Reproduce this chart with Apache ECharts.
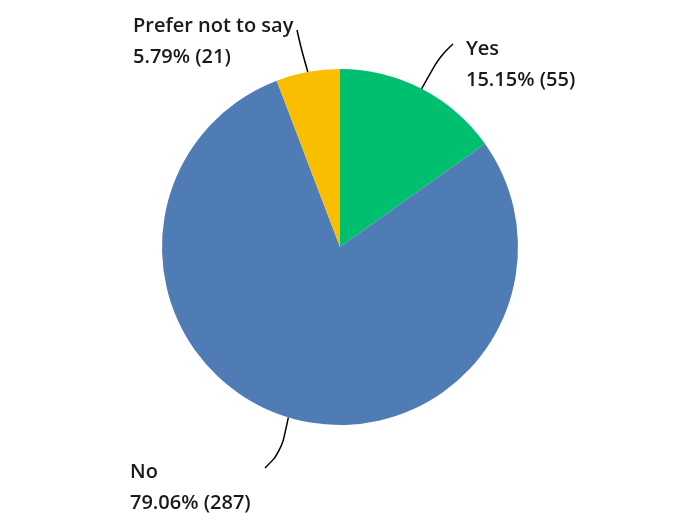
<!DOCTYPE html>
<html>
<head>
<meta charset="utf-8">
<script src="https://cdn.jsdelivr.net/npm/echarts@6/dist/echarts.min.js"></script>
<style>html,body{margin:0;padding:0;background:#fff}#c{width:700px;height:525px}</style>
</head>
<body>
<div id="c"></div>
<script>
const categories = ['Yes', 'No', 'Prefer not to say'];
const counts = [55, 287, 21];
const colors = ['#00BF6F', '#507CB6', '#F9BE00'];

// label placement (style only)
const labelPos = [
  {x: 466, y: 34, line: [[440, 56], [453, 44]]},
  {x: 130, y: 457, line: [[281, 452], [265, 468]]},
  {x: 133, y: 11, line: [[301, 48], [297, 30]]}
];

const chart = echarts.init(document.getElementById('c'), null, {renderer: 'canvas'});
chart.setOption({
  animation: false,
  series: [{
    type: 'pie',
    center: [340, 247],
    radius: 178,
    startAngle: 90,
    clockwise: true,
    data: categories.map((n, i) => ({name: n, value: counts[i], itemStyle: {color: colors[i]}})),
    label: {
      show: true,
      position: 'outside',
      formatter: '{b}\n{d}% ({c})',
      fontFamily: 'Open Sans',
      fontWeight: 600,
      fontSize: 20,
      lineHeight: 31,
      color: '#1a1a1a'
    },
    labelLine: {show: true, smooth: 0.4, lineStyle: {color: '#000', width: 1.5}},
    labelLayout: function (params) {
      const p = labelPos[params.dataIndex];
      const start = params.labelLinePoints ? params.labelLinePoints[0] : p.line[0];
      return {
        x: p.x, y: p.y, align: 'left', verticalAlign: 'top',
        labelLinePoints: [start, p.line[0], p.line[1]]
      };
    }
  }]
});
</script>
</body>
</html>
